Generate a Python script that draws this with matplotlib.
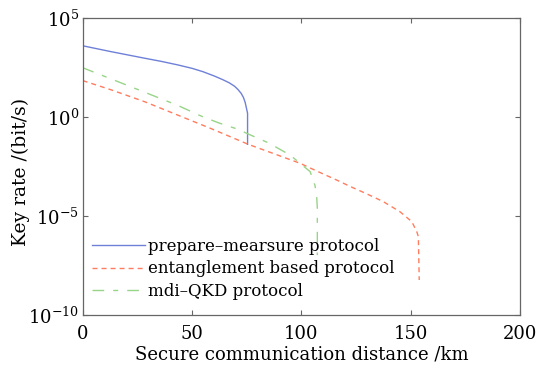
import numpy as np
import matplotlib.pyplot as plt

# values: distance (km) and log10 of key rate (bit/s)
pm_km = [0, 13.1, 28.4, 36.0, 43.6, 50.0, 55.0, 60.0, 64.0, 67.0, 69.5, 71.0, 72.5,
         73.5, 74.3, 74.8, 75.4, 75.4]
pm_log = [3.61, 3.31, 2.98, 2.82, 2.64, 2.47, 2.30, 2.09, 1.90, 1.74, 1.56, 1.40, 1.20,
          1.00, 0.75, 0.50, 0.20, -1.37]

eb_km = [0, 13.1, 28.4, 43.6, 58.8, 75.7, 99.4, 107, 116.2, 122.3, 130, 137.5,
         145.1, 150.5, 152.8, 153.5, 153.9]
eb_log = [1.85, 1.38, 0.78, 0.10, -0.58, -1.37, -2.33, -2.72, -3.18, -3.50, -3.88, -4.27,
          -4.78, -5.28, -5.79, -6.04, -8.23]

mdi_km = [0, 13.1, 28.4, 43.6, 53.7, 62.0, 71.0, 75.7, 85.0, 94.8, 99.4, 104.0,
          106.2, 107.0, 107.3, 107.3]
mdi_log = [2.50, 1.93, 1.26, 0.59, 0.08, -0.28, -0.61, -0.85, -1.30, -1.91, -2.33, -2.75,
           -3.43, -4.02, -4.60, -6.97]

labels = ['prepare\u2013mearsure protocol', 'entanglement based protocol', 'mdi\u2013QKD protocol']

plt.rcParams['font.family'] = 'DejaVu Serif'
plt.rcParams['mathtext.fontset'] = 'dejavuserif'

fig = plt.figure(figsize=(5.45, 3.7), dpi=100)
ax = fig.add_axes([0.1517, 0.1486, 0.8025, 0.802])

ax.plot(pm_km, 10 ** np.array(pm_log), color='#6e80d8', lw=1.0, label=labels[0])
ax.plot(eb_km, 10 ** np.array(eb_log), color='#ff7d5e', lw=1.0, ls=(0, (3.6, 2.9)), label=labels[1])
ax.plot(mdi_km, 10 ** np.array(mdi_log), color='#98d488', lw=1.0, ls=(0, (8.4, 6.5, 3.6, 6.5)),
        label=labels[2])

ax.set_yscale('log')
ax.set_xlim(0, 200)
ax.set_ylim(1e-10, 1e5)
ax.set_yticks([1e-10, 1e-5, 1e0, 1e5])
ax.set_yticklabels([r'$10^{-10}$', r'$10^{-5}$', r'$10^{0}$', r'$10^{5}$'])
ax.minorticks_off()
ax.set_xticks([0, 50, 100, 150, 200])
ax.tick_params(direction='in', top=True, right=True, labelsize=13, length=3.5, color='#666666')
ax.tick_params(axis='x', pad=7)
ax.tick_params(axis='y', pad=2.5)
for s in ax.spines.values():
    s.set_color('#666666')
    s.set_linewidth(0.9)

ax.set_xlabel('Secure communication distance /km', fontsize=13, labelpad=2)
ax.set_ylabel('Key rate /(bit/s)', fontsize=13.5)
ax.yaxis.set_label_coords(-0.12, 0.483)

ax.legend(loc='lower left', bbox_to_anchor=(0.005, 0.028), frameon=False, fontsize=12,
          handlelength=3.2, handletextpad=0.2, labelspacing=0.34, borderaxespad=0)

fig.savefig('out.png', dpi=100)
